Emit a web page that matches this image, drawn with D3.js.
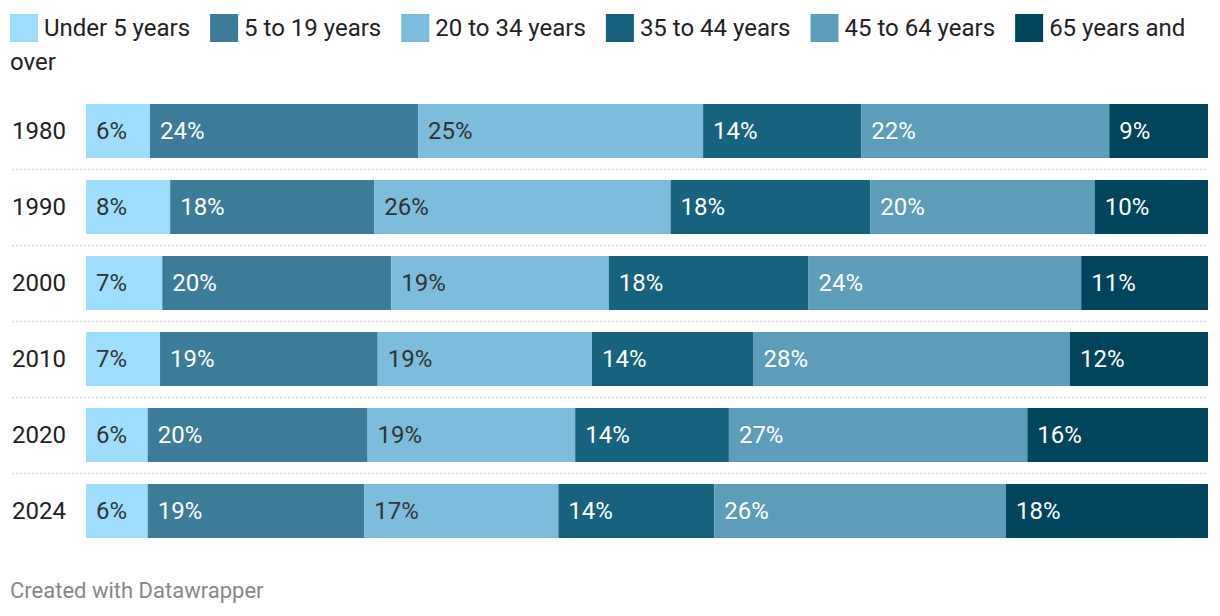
<!DOCTYPE html>
<html>
<head>
<meta charset="utf-8">
<script src="https://cdn.jsdelivr.net/npm/d3@7"></script>
<style>
  body { margin: 0; background: #fff; }
  svg { display: block; font-family: Roboto, sans-serif; }
</style>
</head>
<body>
<svg id="chart" width="1220" height="616"></svg>
<script>
// categories and series (percent of population)
var years = ["1980", "1990", "2000", "2010", "2020", "2024"];
var groups = ["Under 5 years", "5 to 19 years", "20 to 34 years", "35 to 44 years", "45 to 64 years", "65 years and over"];
var under5   = [5.7, 7.5, 6.8, 6.6, 5.5, 5.5];
var age5to19 = [23.9, 18.2, 20.4, 19.4, 19.6, 19.3];
var age20to34 = [25.4, 26.4, 19.4, 19.1, 18.5, 17.3];
var age35to44 = [14.1, 17.8, 17.8, 14.4, 13.7, 13.9];
var age45to64 = [22.1, 20.0, 24.3, 28.2, 26.6, 26.0];
var age65plus = [8.8, 10.1, 11.3, 12.3, 16.1, 18.0];
var series = [under5, age5to19, age20to34, age35to44, age45to64, age65plus];

var colors = ["#9fddfc", "#3d7c99", "#7ebcdb", "#17627c", "#5e9dba", "#00455c"];
var textColors = ["#333", "#fff", "#333", "#fff", "#fff", "#fff"];

var svg = d3.select("#chart");
var fontSize = 24;

// legend, wraps words onto a new line when it runs out of room
var legend = svg.append("g");
var lx = 10, ly = 14, maxX = 1210;
groups.forEach(function(name, i) {
    legend.append("rect")
        .attr("x", lx).attr("y", ly)
        .attr("width", 28).attr("height", 28)
        .attr("fill", colors[i]);
    var words = name.split(" ");
    var tx = lx + 34;
    var baseline = ly + 22;
    var t = legend.append("text")
        .attr("x", tx).attr("y", baseline)
        .attr("font-size", fontSize).attr("fill", "#222");
    var line = [];
    words.forEach(function(w) {
        line.push(w);
        t.text(line.join(" "));
        if (tx + t.node().getComputedTextLength() > maxX && line.length > 1) {
            line.pop();
            t.text(line.join(" "));
            baseline += 34;
            tx = 10;
            t = legend.append("text")
                .attr("x", tx).attr("y", baseline)
                .attr("font-size", fontSize).attr("fill", "#222");
            line = [w];
            t.text(w);
        }
    });
    lx = tx + t.node().getComputedTextLength() + 20;
});

// bars
var x = d3.scaleLinear().domain([0, 100]).range([86, 1208]);
var y = d3.scaleBand().domain(years).range([93, 549]).paddingInner(22 / 76).paddingOuter(11 / 76);

var rows = svg.append("g");
years.forEach(function(yr, r) {
    var acc = 0;
    var g = rows.append("g");
    series.forEach(function(s, i) {
        var v = s[r];
        g.append("rect")
            .attr("x", x(acc))
            .attr("y", y(yr))
            .attr("width", x(acc + v) - x(acc))
            .attr("height", y.bandwidth())
            .attr("fill", colors[i]);
        g.append("text")
            .attr("x", x(acc) + 10)
            .attr("y", y(yr) + y.bandwidth() / 2)
            .attr("dy", "0.35em")
            .attr("font-size", fontSize)
            .attr("fill", textColors[i])
            .text(Math.round(v) + "%");
        acc += v;
    });
    svg.append("text")
        .attr("x", 12)
        .attr("y", y(yr) + y.bandwidth() / 2)
        .attr("dy", "0.35em")
        .attr("font-size", fontSize)
        .attr("fill", "#222")
        .text(yr);
    if (r < years.length - 1) {
        var sy = y(yr) + y.bandwidth() + (y.step() - y.bandwidth()) / 2;
        svg.append("line")
            .attr("x1", 12).attr("x2", 1208)
            .attr("y1", Math.round(sy) + 0.5).attr("y2", Math.round(sy) + 0.5)
            .attr("stroke", "#ccc")
            .attr("stroke-width", 1.5)
            .attr("stroke-dasharray", "1.5,2.5");
    }
});

// footer
svg.append("text")
    .attr("x", 10).attr("y", 598)
    .attr("font-size", 22)
    .attr("fill", "#888")
    .text("Created with Datawrapper");
</script>
</body>
</html>
